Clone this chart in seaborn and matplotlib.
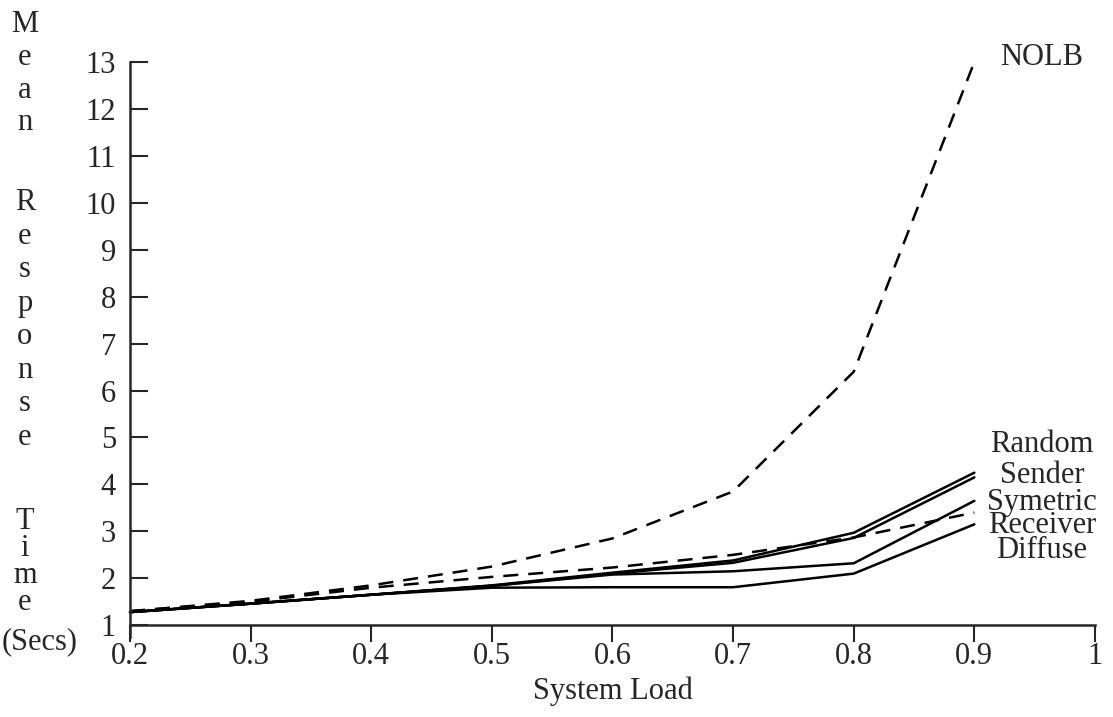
import pandas as pd
import seaborn as sns
import matplotlib.pyplot as plt
import matplotlib.transforms as mtransforms

# System load values on the x axis
loads = [0.2, 0.3, 0.4, 0.5, 0.6, 0.7, 0.8, 0.9]

# Mean response time (secs)
nolb = [1.30, 1.52, 1.85, 2.25, 2.85, 3.85, 6.40, 13.0]
receiver = [1.30, 1.50, 1.80, 2.03, 2.23, 2.50, 2.87, 3.40]
random_lb = [1.28, 1.46, 1.65, 1.85, 2.12, 2.38, 2.97, 4.25]
sender = [1.28, 1.46, 1.65, 1.84, 2.10, 2.33, 2.86, 4.15]
symetric = [1.28, 1.46, 1.65, 1.84, 2.08, 2.15, 2.32, 3.65]
diffuse = [1.28, 1.46, 1.65, 1.80, 1.81, 1.81, 2.10, 3.15]

methods = ['NOLB', 'Receiver', 'Random', 'Sender', 'Symetric', 'Diffuse']
series = [nolb, receiver, random_lb, sender, symetric, diffuse]

x_ticks = [0.2, 0.3, 0.4, 0.5, 0.6, 0.7, 0.8, 0.9, 1.0]
x_tick_labels = ['0.2', '0.3', '0.4', '0.5', '0.6', '0.7', '0.8', '0.9', '1']
y_ticks = list(range(1, 14))

# Build a long table for seaborn
rows = []
for name, vals in zip(methods, series):
    for load, t in zip(loads, vals):
        rows.append({'load': load, 'time': t, 'method': name})
df = pd.DataFrame(rows)

sns.set_style('ticks')
plt.rcParams['font.family'] = ['Liberation Serif', 'DejaVu Serif']
plt.rcParams['font.size'] = 22

fig = plt.figure(figsize=(11.13, 7.17), dpi=100)
ax = fig.add_axes([0.1168, 0.1116, 0.867, 0.802])

dash_styles = {m: '' for m in methods}
dash_styles['NOLB'] = (6, 4)
dash_styles['Receiver'] = (6, 4)

sns.lineplot(data=df, x='load', y='time', hue='method', style='method',
             palette={m: 'black' for m in methods}, dashes=dash_styles,
             linewidth=1.8, legend=False, ax=ax, clip_on=False)

ax.set_xlim(0.2, 1.0)
ax.set_ylim(0.75, 13)
ax.spines['bottom'].set_position(('data', 1))
ax.spines['top'].set_visible(False)
ax.spines['right'].set_visible(False)
ax.spines['left'].set_linewidth(1.8)
ax.spines['bottom'].set_linewidth(1.8)

ax.set_xticks(x_ticks)
ax.set_xticklabels(x_tick_labels)
ax.set_yticks(y_ticks)
ax.tick_params(axis='y', direction='in', length=13, width=1.5, pad=10, labelsize=22)
ax.tick_params(axis='x', direction='out', length=12, width=1.5, pad=0, labelsize=22)
ax.set_xlabel('System Load', fontsize=22, labelpad=4)
ax.set_ylabel('')

# Line labels at the right end
label_pos = {'NOLB': 13.1, 'Random': 4.85, 'Sender': 4.2, 'Symetric': 3.62,
             'Receiver': 3.12, 'Diffuse': 2.6}
for name, yv in label_pos.items():
    ax.text(0.956, yv, name, ha='center', va='center', fontsize=22, clip_on=False)

# Vertical stacked y label, one letter per line
trans = mtransforms.blended_transform_factory(ax.transAxes, ax.transData)
words = [('Mean', 13.8, 0.7), ('Response', 10.0, 0.714), ('Time', 3.2, 0.57)]
for word, start, step in words:
    for i, ch in enumerate(word):
        ax.text(-0.109, start - i * step, ch, transform=trans, ha='center',
                va='center', fontsize=22, clip_on=False)
ax.text(-0.1335, 0.64, '(Secs)', transform=trans, ha='left', va='center',
        fontsize=22, clip_on=False)

fig.savefig('out.png', dpi=100)
